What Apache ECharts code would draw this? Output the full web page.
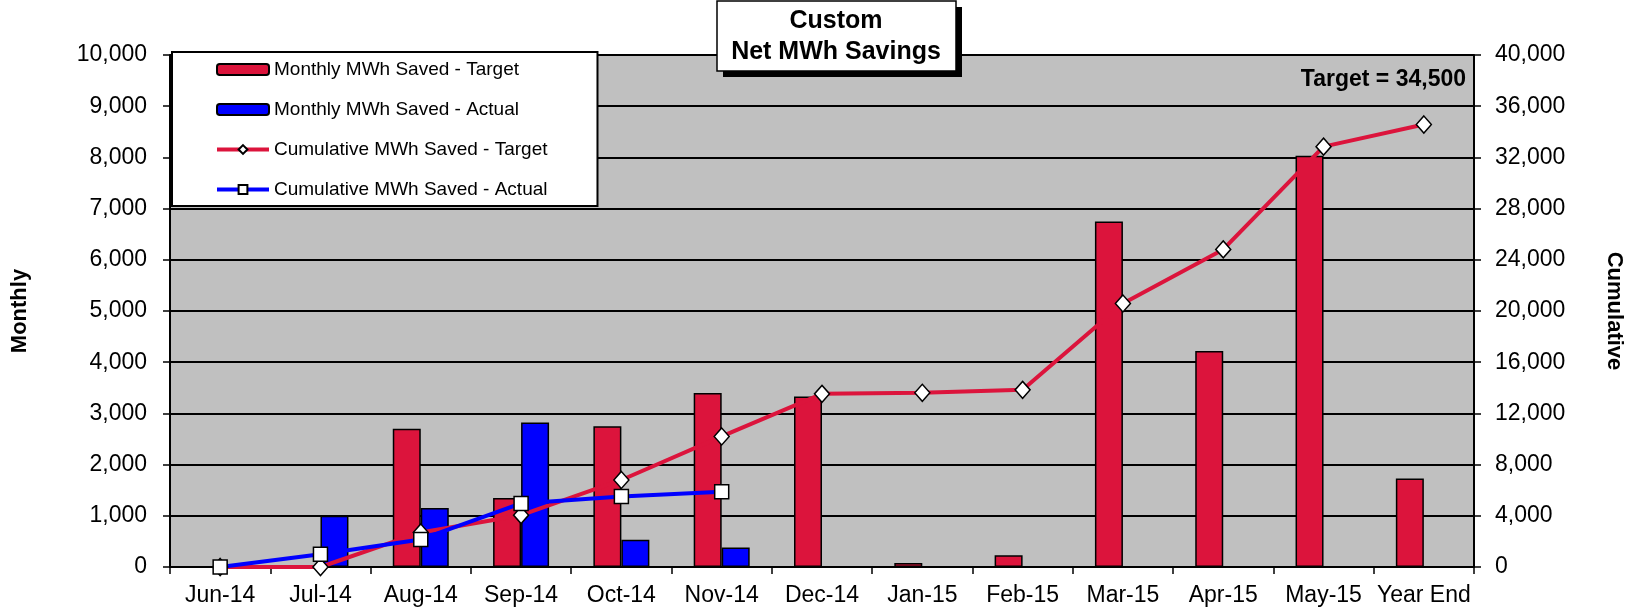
<!DOCTYPE html>
<html>
<head>
<meta charset="utf-8">
<script src="https://cdn.jsdelivr.net/npm/echarts@6/dist/echarts.min.js"></script>
<style>
  html, body { margin: 0; padding: 0; background: #fff; }
  #chart { width: 1633px; height: 613px; }
</style>
</head>
<body>
<div id="chart"></div>
<script>
// categories and values
const months = ['Jun-14', 'Jul-14', 'Aug-14', 'Sep-14', 'Oct-14', 'Nov-14', 'Dec-14',
  'Jan-15', 'Feb-15', 'Mar-15', 'Apr-15', 'May-15', 'Year End'];
const monthlyTarget = [0, 0, 2700, 1350, 2750, 3400, 3330, 80, 230, 6750, 4220, 8030, 1730];
const monthlyActual = [0, 1000, 1150, 2820, 530, 380];
const cumulativeTarget = [0, 0, 2700, 4050, 6800, 10200, 13530, 13610, 13840, 20590, 24810, 32840, 34570];
const cumulativeActual = [0, 1000, 2150, 4970, 5500, 5880];

const FONT = '"Liberation Sans", Arial, sans-serif';
const RED = '#DC143C';
const BLUE = '#0000FF';

const fmt = v => v.toLocaleString('en-US');

const chart = echarts.init(document.getElementById('chart'));

const option = {
  animation: false,
  textStyle: { fontFamily: FONT },
  grid: {
    left: 170,
    right: 158,
    top: 55,
    bottom: 46,
    show: true,
    backgroundColor: '#C0C0C0',
    borderColor: '#808080',
    borderWidth: 1
  },
  legend: {
    orient: 'vertical',
    left: 172,
    top: 52,
    padding: [8, 50, 7, 43],
    itemWidth: 52,
    itemHeight: 11,
    itemGap: 21,
    backgroundColor: '#fff',
    borderColor: '#000',
    borderWidth: 2,
    lineStyle: { width: 4 },
    textStyle: { fontSize: 19, color: '#000', fontFamily: FONT },
    data: ['Monthly MWh Saved - Target', 'Monthly MWh Saved - Actual',
      'Cumulative MWh Saved - Target', 'Cumulative MWh Saved - Actual']
  },
  xAxis: {
    type: 'category',
    data: months,
    boundaryGap: true,
    axisLine: { lineStyle: { color: '#000', width: 2 } },
    axisTick: { show: true, length: 7, lineStyle: { color: '#000', width: 1.5 } },
    axisLabel: { color: '#000', fontSize: 23, margin: 17, interval: 0 }
  },
  yAxis: [
    {
      type: 'value',
      min: 0,
      max: 10000,
      interval: 1000,
      name: 'Monthly',
      nameLocation: 'middle',
      nameGap: 139,
      nameTextStyle: { fontSize: 22, fontWeight: 'bold', color: '#000' },
      axisLine: { show: true, lineStyle: { color: '#000', width: 2 } },
      axisTick: { show: true, length: 7, lineStyle: { color: '#000', width: 1.5 } },
      axisLabel: { color: '#000', fontSize: 23, margin: 23, formatter: fmt },
      splitLine: { show: true, lineStyle: { color: '#000', width: 2 } }
    },
    {
      type: 'value',
      min: 0,
      max: 40000,
      interval: 4000,
      position: 'right',
      name: 'Cumulative',
      nameLocation: 'middle',
      nameGap: 129,
      nameRotate: -90,
      nameTextStyle: { fontSize: 22, fontWeight: 'bold', color: '#000' },
      axisLine: { show: true, lineStyle: { color: '#000', width: 2 } },
      axisTick: { show: true, length: 7, lineStyle: { color: '#000', width: 1.5 } },
      axisLabel: { color: '#000', fontSize: 23, margin: 21, formatter: fmt },
      splitLine: { show: false }
    }
  ],
  series: [
    {
      name: 'Monthly MWh Saved - Target',
      type: 'bar',
      data: monthlyTarget,
      barWidth: 28,
      barGap: '0%',
      itemStyle: { color: RED, borderColor: '#000', borderWidth: 1.5 }
    },
    {
      name: 'Monthly MWh Saved - Actual',
      type: 'bar',
      data: monthlyActual,
      barWidth: 28,
      barGap: '0%',
      itemStyle: { color: BLUE, borderColor: '#000', borderWidth: 1.5 }
    },
    {
      name: 'Cumulative MWh Saved - Target',
      type: 'line',
      yAxisIndex: 1,
      data: cumulativeTarget,
      symbol: 'diamond',
      symbolSize: [15, 17],
      lineStyle: { color: RED, width: 4 },
      itemStyle: { color: '#fff', borderColor: '#000', borderWidth: 1.5 }
    },
    {
      name: 'Cumulative MWh Saved - Actual',
      type: 'line',
      yAxisIndex: 1,
      data: cumulativeActual,
      symbol: 'rect',
      symbolSize: 14,
      lineStyle: { color: BLUE, width: 4 },
      itemStyle: { color: '#fff', borderColor: '#000', borderWidth: 1.5 }
    }
  ],
  graphic: [
    // title box with hard shadow
    { type: 'rect', z: 100, shape: { x: 723, y: 7, width: 239, height: 70 }, style: { fill: '#000' } },
    { type: 'rect', z: 101, shape: { x: 717, y: 1, width: 239, height: 70 },
      style: { fill: '#fff', stroke: '#000', lineWidth: 1.5 } },
    { type: 'text', z: 102, x: 836, y: 21,
      style: { text: 'Custom', fill: '#000', font: 'bold 25px ' + FONT, align: 'center', verticalAlign: 'middle' } },
    { type: 'text', z: 102, x: 836, y: 52,
      style: { text: 'Net MWh Savings', fill: '#000', font: 'bold 25px ' + FONT, align: 'center', verticalAlign: 'middle' } },
    { type: 'text', z: 102, x: 1466, y: 80,
      style: { text: 'Target = 34,500', fill: '#000', font: 'bold 23px ' + FONT, align: 'right', verticalAlign: 'middle' } }
  ]
};

chart.setOption(option);
window.addEventListener('resize', () => chart.resize());
</script>
</body>
</html>
